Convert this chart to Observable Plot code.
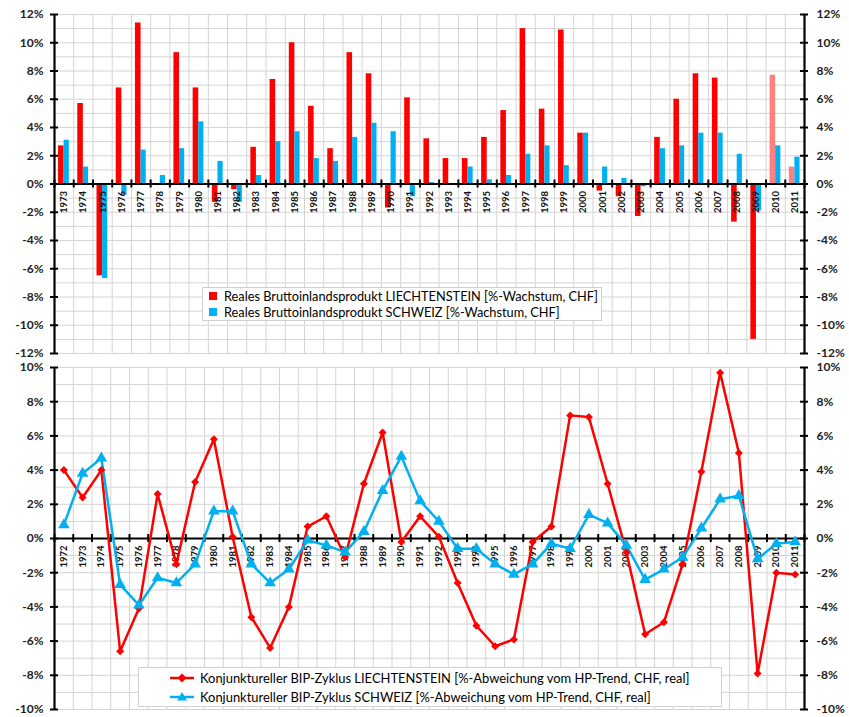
<!DOCTYPE html>
<html>
<head>
<meta charset="utf-8">
<script src="https://cdn.jsdelivr.net/npm/d3@7"></script>
<script src="https://cdn.jsdelivr.net/npm/@observablehq/plot@0.6"></script>
<style>
  body { margin: 0; background: #fff; }
  #wrap { position: relative; width: 849px; height: 717px; font-family: Lato, "Open Sans", sans-serif; overflow: hidden; }
  .panel { position: absolute; left: 0; }
  .legend { position: absolute; background: #fff; border: 1px solid #d0d0d0; box-sizing: border-box; color: #000; font-size: 13px; }
  .row { position: absolute; white-space: nowrap; line-height: 16px; height: 16px; }
  .row svg { position: absolute; top: 0; }
  .txt { display: inline-block; }
</style>
</head>
<body>
<div id="wrap">
  <div id="topPanel" class="panel" style="top:0"></div>
  <div id="bottomPanel" class="panel" style="top:358px"></div>
  <div class="legend" data-w="374" style="left:202px;top:287px;width:400px;height:34px;">
    <div class="row" style="left:6px;top:0px;"><svg width="10" height="16"><rect x="0" y="4" width="8" height="8" fill="#ff0000"/></svg><span class="txt" style="margin-left:15px">Reales Bruttoinlandsprodukt LIECHTENSTEIN [%-Wachstum, CHF]</span></div>
    <div class="row" style="left:6px;top:16px;"><svg width="10" height="16"><rect x="0" y="4" width="8" height="8" fill="#00b0f0"/></svg><span class="txt" style="margin-left:15px">Reales Bruttoinlandsprodukt SCHWEIZ [%-Wachstum, CHF]</span></div>
  </div>
  <div class="legend" data-w="490" style="left:138px;top:667px;width:584px;height:40px;">
    <div class="row" style="left:30px;top:2px;"><svg width="26" height="16"><line x1="1" y1="8" x2="25" y2="8" stroke="#ff0000" stroke-width="2.5"/><path d="M13,3.5L17.5,8L13,12.5L8.5,8Z" fill="#ff0000"/></svg><span class="txt" style="margin-left:31px">Konjunktureller BIP-Zyklus LIECHTENSTEIN [%-Abweichung vom HP-Trend, CHF, real]</span></div>
    <div class="row" style="left:30px;top:21px;"><svg width="26" height="16"><line x1="1" y1="8" x2="25" y2="8" stroke="#00b0f0" stroke-width="2.5"/><path d="M13,3L18,11.5L8,11.5Z" fill="#00b0f0"/></svg><span class="txt" style="margin-left:31px">Konjunktureller BIP-Zyklus SCHWEIZ [%-Abweichung vom HP-Trend, CHF, real]</span></div>
  </div>
</div>
<script>
// ---------- DATA ----------
const growthYears = [1973,1974,1975,1976,1977,1978,1979,1980,1981,1982,1983,1984,1985,1986,1987,1988,1989,1990,1991,1992,1993,1994,1995,1996,1997,1998,1999,2000,2001,2002,2003,2004,2005,2006,2007,2008,2009,2010,2011];
const growthLiechtenstein = [2.7,5.7,-6.5,6.8,11.4,0.0,9.3,6.8,-1.3,-0.4,2.6,7.4,10.0,5.5,2.5,9.3,7.8,-1.7,6.1,3.2,1.8,1.8,3.3,5.2,11.0,5.3,10.9,3.6,-0.5,-0.9,-2.3,3.3,6.0,7.8,7.5,-2.7,-11.0,7.7,1.2];
const growthSchweiz = [3.1,1.2,-6.7,-0.8,2.4,0.6,2.5,4.4,1.6,-1.3,0.6,3.0,3.7,1.8,1.6,3.3,4.3,3.7,-0.9,0.1,-0.1,1.2,0.3,0.6,2.1,2.7,1.3,3.6,1.2,0.4,-0.2,2.5,2.7,3.6,3.6,2.1,-1.9,2.7,1.9];
const estimatedYears = [2010, 2011];

const cycleYears = [1972,1973,1974,1975,1976,1977,1978,1979,1980,1981,1982,1983,1984,1985,1986,1987,1988,1989,1990,1991,1992,1993,1994,1995,1996,1997,1998,1999,2000,2001,2002,2003,2004,2005,2006,2007,2008,2009,2010,2011];
const cycleLiechtenstein = [4.0,2.4,4.0,-6.6,-4.1,2.6,-1.5,3.3,5.8,0.1,-4.6,-6.4,-4.0,0.7,1.3,-1.1,3.2,6.2,-0.2,1.3,0.1,-2.6,-5.1,-6.3,-5.9,-0.2,0.7,7.2,7.1,3.2,-0.8,-5.6,-4.9,-1.5,3.9,9.7,5.0,-7.9,-2.0,-2.1];
const cycleSchweiz = [0.8,3.8,4.7,-2.7,-3.9,-2.3,-2.6,-1.5,1.6,1.6,-1.5,-2.6,-1.8,-0.1,-0.4,-0.8,0.4,2.8,4.8,2.2,1.0,-0.6,-0.6,-1.5,-2.1,-1.5,-0.3,-0.6,1.4,0.9,-0.4,-2.4,-1.8,-1.1,0.6,2.3,2.5,-1.2,-0.3,-0.2];

const topTicks = [-12,-10,-8,-6,-4,-2,0,2,4,6,8,10,12];
const bottomTicks = [-10,-8,-6,-4,-2,0,2,4,6,8,10];

// ---------- STYLE ----------
const RED = "#ff0000", PINK = "#ff8080", BLUE = "#00b0f0", GRID = "#d4d4d4";
const FONT = "Lato, 'Open Sans', sans-serif";

const growth = growthYears.map((year, i) => ({year, li: growthLiechtenstein[i], ch: growthSchweiz[i]}));
const cycle = cycleYears.map((year, i) => ({year, li: cycleLiechtenstein[i], ch: cycleSchweiz[i]}));

function frameMarks(years, ticks, xmin, xmax) {
  const bounds = d3.range(years[0] - 0.5, years[years.length - 1] + 1, 1);
  const minor = d3.range(ticks[0], ticks[ticks.length - 1] + 1, 1);
  return {
    grid: [
      Plot.ruleY(minor, {stroke: GRID, strokeWidth: 1}),
      Plot.ruleX(bounds, {stroke: GRID, strokeWidth: 1})
    ],
    axes: [
      Plot.ruleY([0], {stroke: "#000", strokeWidth: 2}),
      Plot.ruleX(bounds, {y1: 0, y2: 0, insetTop: -4, insetBottom: -4, stroke: "#000", strokeWidth: 2}),
      Plot.ruleX([xmin, xmax], {stroke: "#000", strokeWidth: 2.2}),
      Plot.ruleY(ticks, {x1: xmin, x2: xmin, insetLeft: -4, insetRight: -4, stroke: "#000", strokeWidth: 2}),
      Plot.ruleY(ticks, {x1: xmax, x2: xmax, insetLeft: -4, insetRight: -4, stroke: "#000", strokeWidth: 2}),
      Plot.text(ticks, {x: xmin, y: d => d, text: d => d + "%", textAnchor: "end", dx: -11, fontWeight: "bold", fontSize: 12, fill: "#222"}),
      Plot.text(ticks, {x: xmax, y: d => d, text: d => d + "%", textAnchor: "start", dx: 12, fontWeight: "bold", fontSize: 12, fill: "#222"})
    ],
    labels: Plot.text(years, {x: d => d, y: 0, text: d => String(d), rotate: -90, textAnchor: "end", dy: 7, fontSize: 9.5, fontWeight: "bold", fill: "#111"})
  };
}

// ---------- TOP PANEL: bars ----------
{
  const xmin = growthYears[0] - 0.5, xmax = growthYears[growthYears.length - 1] + 0.5;
  const f = frameMarks(growthYears, topTicks, xmin, xmax);
  const chart = Plot.plot({
    width: 849, height: 358,
    marginLeft: 54, marginRight: 45, marginTop: 14, marginBottom: 5,
    x: {domain: [xmin, xmax], axis: null},
    y: {domain: [-12, 12], axis: null},
    style: {fontFamily: FONT, background: "transparent", overflow: "visible"},
    marks: [
      ...f.grid,
      Plot.rectY(growth, {x1: d => d.year - 0.29, x2: d => d.year, y1: 0, y2: "li",
        fill: d => estimatedYears.includes(d.year) ? PINK : RED}),
      Plot.rectY(growth, {x1: d => d.year, x2: d => d.year + 0.27, y1: 0, y2: "ch", fill: BLUE}),
      ...f.axes,
      f.labels
    ]
  });
  document.getElementById("topPanel").appendChild(chart);
}

// ---------- BOTTOM PANEL: lines ----------
{
  const xmin = cycleYears[0] - 0.5, xmax = cycleYears[cycleYears.length - 1] + 0.5;
  const f = frameMarks(cycleYears, bottomTicks, xmin, xmax);
  const chart = Plot.plot({
    width: 849, height: 359,
    marginLeft: 54, marginRight: 45, marginTop: 9, marginBottom: 8,
    x: {domain: [xmin, xmax], axis: null},
    y: {domain: [-10, 10], axis: null},
    style: {fontFamily: FONT, background: "transparent", overflow: "visible"},
    marks: [
      ...f.grid,
      f.labels,
      ...f.axes,
      Plot.line(cycle, {x: "year", y: "li", stroke: RED, strokeWidth: 2.5}),
      Plot.line(cycle, {x: "year", y: "ch", stroke: BLUE, strokeWidth: 2.5}),
      Plot.dot(cycle, {x: "year", y: "li", symbol: "diamond2", r: 3.6, fill: RED, stroke: "none"}),
      Plot.dot(cycle, {x: "year", y: "ch", symbol: "triangle", r: 4.3, fill: BLUE, stroke: "none"})
    ]
  });
  document.getElementById("bottomPanel").appendChild(chart);
}

// size each legend's text so that its longest line spans the width it has in the reference
document.querySelectorAll(".legend").forEach(box => {
  const spans = box.querySelectorAll(".txt");
  const target = +box.dataset.w;
  const w = spans[0].getBoundingClientRect().width;
  const size = parseFloat(getComputedStyle(spans[0]).fontSize);
  if (w > 0) spans.forEach(s => s.style.fontSize = (size * target / w).toFixed(2) + "px");
});
</script>
</body>
</html>
